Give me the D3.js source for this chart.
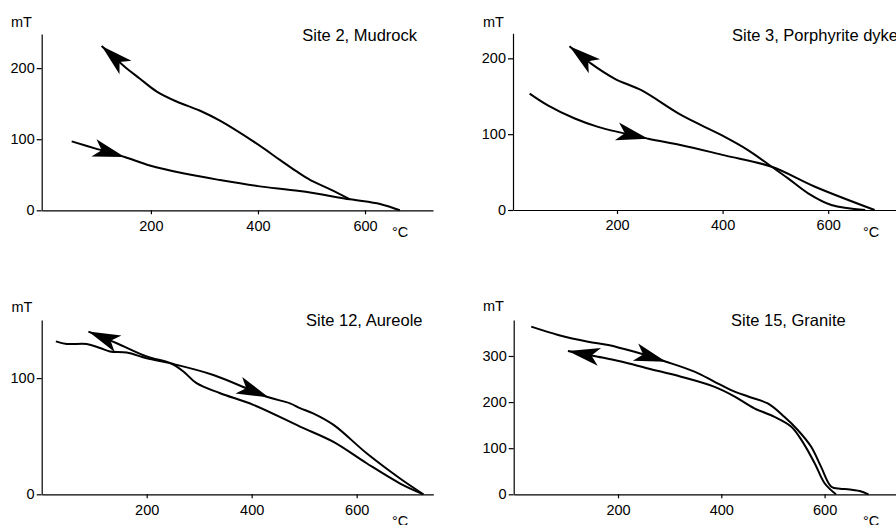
<!DOCTYPE html>
<html>
<head>
<meta charset="utf-8">
<title>Thermomagnetic curves</title>
<script src="https://cdn.jsdelivr.net/npm/d3@7"></script>
<style>
  body { margin: 0; background: #fff; }
  svg { display: block; }
  text { font-family: "Liberation Sans", Arial, Helvetica, sans-serif; fill: #000; }
  .tick text { font-size: 14.5px; }
  .domain, .tick line { stroke: #000; stroke-width: 1.2px; }
  .curve { fill: none; stroke: #000; stroke-width: 2px; stroke-linejoin: round; }
</style>
</head>
<body>
<svg id="chart" width="896" height="525"></svg>
<script>
// panel titles and axis labels
var titles = ['Site 2, Mudrock', 'Site 3, Porphyrite dyke', 'Site 12, Aureole', 'Site 15, Granite'];
var yUnit = 'mT';
var xUnit = '\u00b0C';
var xTicks = [200, 400, 600];
var yTicks1 = [0, 100, 200];
var yTicks2 = [0, 100, 200];
var yTicks3 = [0, 100];
var yTicks4 = [0, 100, 200, 300];

// [temperature, field]; heating then cooling run
var heat1 = [[52, 97], [100, 86], [151, 75], [198, 63], [260, 52], [329, 42.5], [400, 34], [478, 27], [572, 15.5], [628, 8.9], [650, 4], [665, 0]];
var cool1 = [[572, 15.5], [535, 29.5], [498, 42.6], [473, 54.3], [441, 71], [392, 96.5], [329, 126], [292, 140], [248, 153], [211, 167], [179, 185.5], [151, 202], [108, 231]];
var heat2 = [[34.5, 153.5], [69, 138], [120, 120.6], [164, 109.6], [259, 94], [322, 85.5], [404, 72], [493, 57], [575, 30.7], [688, 0]];
var cool2 = [[670, 0], [606, 6.6], [562, 22], [524, 41.7], [493, 57], [448, 79], [398, 98.7], [322, 125], [246, 158], [196, 173], [151, 193], [110, 216]];
var heat3 = [[27, 131.6], [47.5, 129.4], [85.7, 129.4], [111, 125.9], [130, 122.9], [162, 122], [200, 117], [247, 112.5], [327, 102.7], [432, 83.5], [473, 78.3], [492, 74.1], [517, 69.6], [556, 59.7], [619, 35.3], [682, 13.8], [727, 0]];
var cool3 = [[727, 0], [682, 9.5], [619, 26.7], [555, 45.3], [492, 58.3], [403, 77], [340, 87], [295, 95.6], [270, 105.7], [247, 112.5], [200, 118.6], [143, 130], [89, 140]];
var heat4 = [[32, 363.6], [84, 345.6], [142, 331], [181, 324], [232, 309], [293, 287.6], [348, 266], [387, 244], [419, 226], [452, 212], [490, 197], [522, 168], [548, 139.5], [574, 103], [593, 60], [613, 16.5], [630, 12], [645, 11], [668, 7], [685, 0]];
var cool4 = [[622, 0], [600, 24], [581, 67], [555, 118], [535, 147], [503, 168], [464, 186.5], [426, 212], [387, 233], [322, 255], [258, 273], [206, 288], [161, 298.5], [103, 311]];

// arrows: [from, tip]
var arrows1 = [[[52, 97], [151, 75]], [[151, 202], [108, 231]]];
var arrows2 = [[[164, 109.6], [259, 94]], [[151, 193], [110, 216]]];
var arrows3 = [[[327, 102.7], [432, 83.5]], [[143, 130], [89, 140]]];
var arrows4 = [[[232, 309], [293, 287.6]], [[161, 298.5], [103, 311]]];

var svg = d3.select('#chart');

var panels = [
  { title: titles[0], heat: heat1, cool: cool1, arrows: arrows1, yTicks: yTicks1,
    xd: [-4, 727], xr: [41.7, 433], yd: [0, 248], yr: [210.3, 34],
    mT: [11, 26.5], degC: [392, 237], titlePos: [417, 41], anchor: 'end' },
  { title: titles[1], heat: heat2, cool: cool2, arrows: arrows2, yTicks: yTicks2,
    xd: [3, 736], xr: [513, 900], yd: [0, 233], yr: [210, 33.3],
    mT: [483, 26.5], degC: [863, 237], titlePos: [732, 41], anchor: 'start' },
  { title: titles[2], heat: heat3, cool: cool3, arrows: arrows3, yTicks: yTicks3,
    xd: [0, 746], xr: [41.7, 433.3], yd: [0, 150], yr: [494.3, 320],
    mT: [11.5, 311.5], degC: [392, 526], titlePos: [422.5, 326], anchor: 'end' },
  { title: titles[3], heat: heat4, cool: cool4, arrows: arrows4, yTicks: yTicks4,
    xd: [-2, 746], xr: [513.7, 900], yd: [0, 378], yr: [494.3, 320],
    mT: [483, 311], degC: [863, 526], titlePos: [731, 326], anchor: 'start' }
];

panels.forEach(function (p) {
  var x = d3.scaleLinear().domain(p.xd).range(p.xr);
  var y = d3.scaleLinear().domain(p.yd).range(p.yr);
  var g = svg.append('g');

  g.append('g')
    .attr('transform', 'translate(0,' + p.yr[0] + ')')
    .call(d3.axisBottom(x).tickValues(xTicks).tickSize(4).tickSizeOuter(0).tickPadding(6));
  g.append('g')
    .attr('transform', 'translate(' + p.xr[0] + ',0)')
    .call(d3.axisLeft(y).tickValues(p.yTicks).tickSize(5).tickSizeOuter(0).tickPadding(2));
  g.selectAll('.tick text').attr('font-family', null).attr('font-size', null);

  var line = d3.line()
    .x(function (d) { return x(d[0]); })
    .y(function (d) { return y(d[1]); })
    .curve(d3.curveCatmullRom.alpha(0.5));

  [p.heat, p.cool].forEach(function (run) {
    g.append('path').attr('class', 'curve').attr('d', line(run));
  });

  p.arrows.forEach(function (a) {
    var x0 = x(a[0][0]), y0 = y(a[0][1]);
    var x1 = x(a[1][0]), y1 = y(a[1][1]);
    var ang = Math.atan2(y1 - y0, x1 - x0) * 180 / Math.PI;
    g.append('path')
      .attr('d', 'M0,0L-32,-9L-24,0L-32,9Z')
      .attr('fill', '#000')
      .attr('transform', 'translate(' + x1 + ',' + y1 + ') rotate(' + ang + ')');
  });

  g.append('text').attr('x', p.mT[0]).attr('y', p.mT[1])
    .attr('font-size', '14.5px').text(yUnit);
  g.append('text').attr('x', p.degC[0]).attr('y', p.degC[1])
    .attr('font-size', '14.5px').text(xUnit);
  g.append('text').attr('x', p.titlePos[0]).attr('y', p.titlePos[1])
    .attr('text-anchor', p.anchor).attr('font-size', '16.5px').text(p.title);
});
</script>
</body>
</html>
